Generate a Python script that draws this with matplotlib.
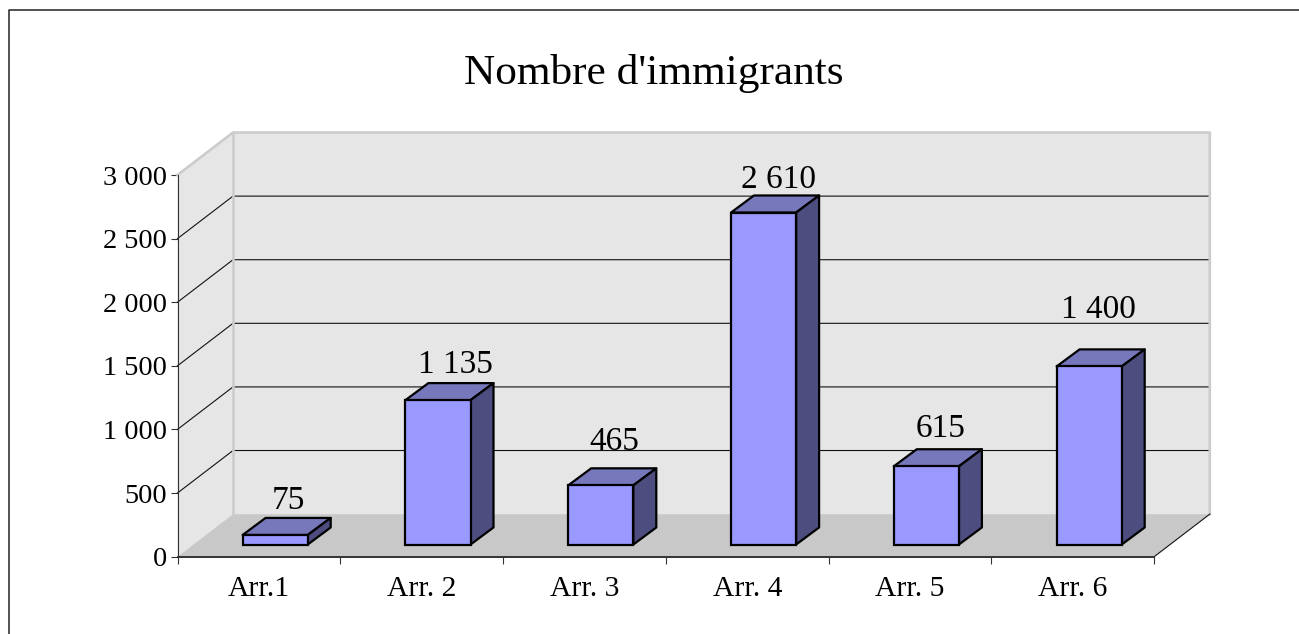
import matplotlib
matplotlib.use('Agg')
import matplotlib.pyplot as plt
from matplotlib.lines import Line2D
from matplotlib.patches import Polygon

plt.rcParams['font.family'] = ['Liberation Serif', 'DejaVu Serif']

categories = ['Arr.1', 'Arr. 2', 'Arr. 3', 'Arr. 4', 'Arr. 5', 'Arr. 6']
values = [75, 1135, 465, 2610, 615, 1400]
value_labels = ['75', '1 135', '465', '2 610', '615', '1 400']
y_ticks = [0, 500, 1000, 1500, 2000, 2500, 3000]
y_tick_labels = ['0', '500', '1 000', '1 500', '2 000', '2 500', '3 000']

W, H = 1299, 634
fig = plt.figure(figsize=(W / 100, H / 100), dpi=100, facecolor='white')

# front plane of the fake 3d box, in pixels
left, right, top, bottom = 177.5, 1154.3, 175, 556.6
ax = fig.add_axes([left / W, 1 - bottom / H, (right - left) / W, (bottom - top) / H])
ax.set_xlim(0, 6)
ax.set_ylim(0, 3000)
ax.patch.set_visible(False)

# depth of the box and of the bars, in data units
wall_dx, wall_dy = 0.341, 334
bar_shift_x, bar_shift_y = 0.1, 95
bar_dx, bar_dy = 0.141, 134
bar_width = 0.4

# walls and floor
ax.add_patch(Polygon([(0, 0), (wall_dx, wall_dy), (wall_dx, 3000 + wall_dy), (0, 3000)],
                     fc='#e6e6e6', ec='none', clip_on=False, zorder=1))
ax.add_patch(Polygon([(wall_dx, wall_dy), (6 + wall_dx, wall_dy), (6 + wall_dx, 3000 + wall_dy),
                      (wall_dx, 3000 + wall_dy)],
                     fc='#e6e6e6', ec='none', clip_on=False, zorder=1))
ax.add_patch(Polygon([(0, 0), (6, 0), (6 + wall_dx, wall_dy), (wall_dx, wall_dy)],
                     fc='#c8c8c8', ec='none', clip_on=False, zorder=1))

# gridlines go round the left wall and along the back
for v in y_ticks[1:-1]:
    ax.plot([0, wall_dx, 6 + wall_dx], [v, v + wall_dy, v + wall_dy],
            color='#111111', lw=0.8, clip_on=False, zorder=2)

# wall borders
edge = dict(color='#cccccc', lw=1.9, clip_on=False, zorder=3, solid_capstyle='projecting')
ax.plot([0, wall_dx, 6 + wall_dx, 6 + wall_dx], [3000, 3000 + wall_dy, 3000 + wall_dy, wall_dy], **edge)
ax.plot([wall_dx, wall_dx], [wall_dy, 3000 + wall_dy], **edge)
ax.plot([6, 6 + wall_dx], [0, wall_dy], color='#111111', lw=0.8, clip_on=False, zorder=3)

x = [i + 0.5 + bar_shift_x for i in range(len(values))]
ax.bar(x, values, width=bar_width, bottom=bar_shift_y, color='#9999ff',
       edgecolor='black', linewidth=1.6, zorder=5, clip_on=False)

for xi, v in zip(x, values):
    x0, x1 = xi - bar_width / 2, xi + bar_width / 2
    y0, y1 = bar_shift_y, bar_shift_y + v
    ax.add_patch(Polygon([(x0, y1), (x1, y1), (x1 + bar_dx, y1 + bar_dy), (x0 + bar_dx, y1 + bar_dy)],
                         fc='#7777bb', ec='black', lw=1.6, joinstyle='round', clip_on=False, zorder=4))
    ax.add_patch(Polygon([(x1, y0), (x1 + bar_dx, y0 + bar_dy), (x1 + bar_dx, y1 + bar_dy), (x1, y1)],
                         fc='#4d4d80', ec='black', lw=1.6, joinstyle='round', clip_on=False, zorder=4))

# the labels sit a bit unevenly above the bars
label_off_x = [30, 34, 30, 31, 30, 26]
label_off_y = [38, 39, 47, 37, 41, 61]
for i, (v, lab) in enumerate(zip(values, value_labels)):
    ax.annotate(lab, (i + 0.5, v), xytext=(label_off_x[i], label_off_y[i]), textcoords='offset pixels',
                ha='center', va='baseline', fontsize=24, color='black',
                annotation_clip=False, zorder=6)

# axes
for s in ('top', 'right'):
    ax.spines[s].set_visible(False)
ax.spines['left'].set_color('#333333')
ax.spines['left'].set_linewidth(0.8)
ax.spines['bottom'].set_color('#333333')
ax.spines['bottom'].set_linewidth(1.4)
for s in ax.spines.values():
    s.set_zorder(7)

ax.set_yticks(y_ticks)
ax.set_yticklabels(y_tick_labels, fontsize=20.3)
ax.tick_params(axis='y', length=5, width=0.8, color='#333333', pad=2.3)
ax.set_xticks(range(7))
ax.set_xticklabels([])
ax.set_xticks([i + 0.5 for i in range(6)], minor=True)
ax.set_xticklabels(categories, minor=True, fontsize=21.3)
ax.tick_params(axis='x', which='major', length=5, width=0.8, color='#333333')
ax.tick_params(axis='x', which='minor', length=0, pad=14)

fig.text(654 / W, 1 - 84 / H, "Nombre d'immigrants", ha='center', va='baseline', fontsize=31.2)

# chart frame, cut off at the right and bottom of the picture
fig.add_artist(Line2D([8.5 / W, 8.5 / W, 1], [0, 1 - 10 / H, 1 - 10 / H], color='#222222', lw=1.1))

fig.savefig('out.png', dpi=100)
